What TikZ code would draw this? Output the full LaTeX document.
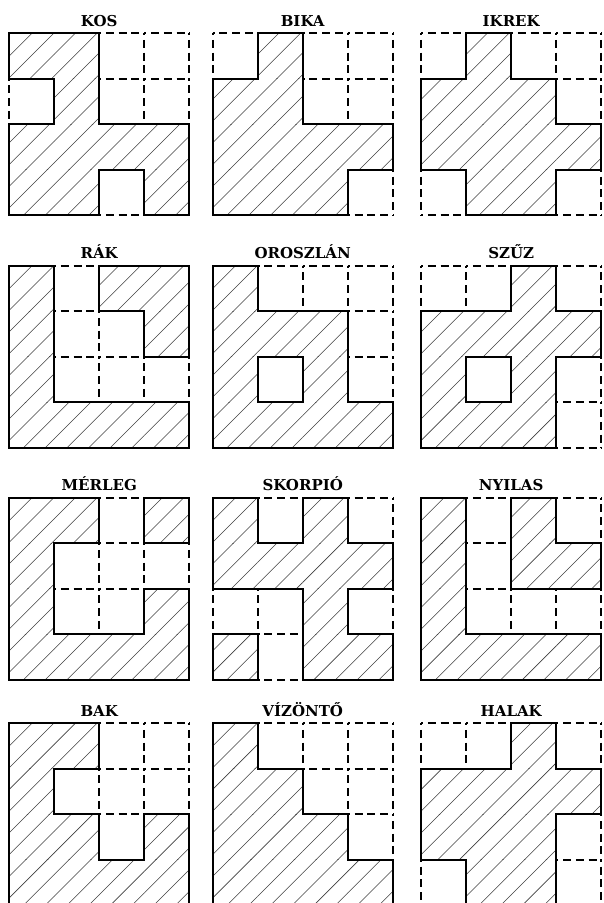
\documentclass[tikz,border=0pt]{standalone}
\usepackage{fontspec}
\setmainfont{DejaVu Serif}
\tikzset{
  solidl/.style={line width=2pt, line cap=rect, black},
  dashl/.style={line width=2pt, line cap=butt, black, dash pattern=on 8pt off 4.75pt, dash phase=6pt},
  hatchl/.style={line width=0.55pt, black!75},
  ttl/.style={font=\fontsize{15}{18}\selectfont\bfseries, anchor=base, inner sep=0pt},
}
\newcommand\cellw{45.1}
\newcommand\cellh{45.6}
\newcommand\getst[3]{%
  \ifnum#1<0 \def#3{0}\else\ifnum#1>3 \def#3{0}\else
  \ifnum#2<0 \def#3{0}\else\ifnum#2>3 \def#3{0}\else
  \pgfmathtruncatemacro#3{\pat[#2*4+#1]}\fi\fi\fi\fi}
\newcommand\edgepass[2]{%
  \foreach \ri in {0,...,4}{\foreach \ci in {0,...,3}{%
    \pgfmathtruncatemacro\rp{\ri-1}%
    \getst{\ci}{\rp}\stA\getst{\ci}{\ri}\stB
    \pgfmathtruncatemacro\stS{\stA+\stB}%
    \ifnum\stS=#1 \draw[#2] ({\ci*\cellw},{\ri*\cellh}) -- ({(\ci+1)*\cellw},{\ri*\cellh});\fi}}%
  \foreach \ci in {0,...,4}{\foreach \ri in {0,...,3}{%
    \pgfmathtruncatemacro\cp{\ci-1}%
    \getst{\cp}{\ri}\stA\getst{\ci}{\ri}\stB
    \pgfmathtruncatemacro\stS{\stA+\stB}%
    \ifnum\stS=#1 \draw[#2] ({\ci*\cellw},{\ri*\cellh}) -- ({\ci*\cellw},{(\ri+1)*\cellh});\fi}}}
\newcommand\hatchpass{%
  \foreach \ri in {0,...,3}{\foreach \ci in {0,...,3}{%
    \getst{\ci}{\ri}\stA
    \ifnum\stA=1
      \begin{scope}
        \clip ({\ci*\cellw},{\ri*\cellh}) rectangle ++(\cellw,\cellh);
        \foreach \k in {0,...,17}{\draw[hatchl] ({1.5+\k*21.7},0) -- ({1.5+\k*21.7-190},190);}
      \end{scope}
    \fi}}}
\newcommand\panel[5]{%
  \begin{scope}[shift={(#2,#3)}]
    \def\pat{{#5}}%
    \hatchpass
    \edgepass{0}{dashl}
    \edgepass{1}{solidl}
    \node[ttl] (#1) at ({2*\cellw},-7) {#4};
  \end{scope}}
\begin{document}
\begin{tikzpicture}[x=1pt,y=-1pt]
\useasboundingbox (0,0) rectangle (603,903);
\clip (0,0) rectangle (603,903);
\fill[white] (0,0) rectangle (603,903);
\panel{kos}{9}{33}{KOS}{1,1,0,0,0,1,0,0,1,1,1,1,1,1,0,1}
\panel{bika}{212.5}{33}{BIKA}{0,1,0,0,1,1,0,0,1,1,1,1,1,1,1,0}
\panel{ikrek}{421}{33}{IKREK}{0,1,0,0,1,1,1,0,1,1,1,1,0,1,1,0}
\panel{rak}{9}{265.5}{RÁK}{1,0,1,1,1,0,0,1,1,0,0,0,1,1,1,1}
\panel{oroszlan}{212.5}{265.5}{OROSZLÁN}{1,0,0,0,1,1,1,0,1,0,1,0,1,1,1,1}
\panel{szuz}{421}{265.5}{SZŰZ}{0,0,1,0,1,1,1,1,1,0,1,0,1,1,1,0}
\panel{merleg}{9}{497.5}{MÉRLEG}{1,1,0,1,1,0,0,0,1,0,0,1,1,1,1,1}
\panel{skorpio}{212.5}{497.5}{SKORPIÓ}{1,0,1,0,1,1,1,1,0,0,1,0,1,0,1,1}
\panel{nyilas}{421}{497.5}{NYILAS}{1,0,1,0,1,0,1,1,1,0,0,0,1,1,1,1}
\panel{bak}{9}{723}{BAK}{1,1,0,0,1,0,0,0,1,1,0,1,1,1,1,1}
\panel{vizonto}{212.5}{723}{VÍZÖNTŐ}{1,0,0,0,1,1,0,0,1,1,1,0,1,1,1,1}
\panel{halak}{421}{723}{HALAK}{0,0,1,0,1,1,1,1,1,1,1,0,0,1,1,0}
\end{tikzpicture}
\end{document}
